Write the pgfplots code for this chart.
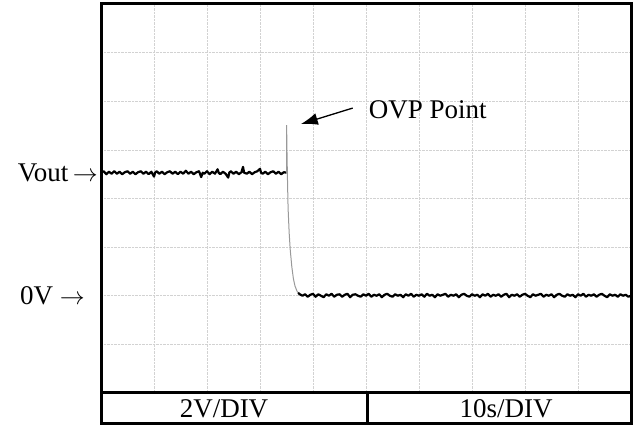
\documentclass[border=0pt]{standalone}
\usepackage{fontspec}
\setmainfont{Liberation Serif}
\usepackage{pgfplots}
\pgfplotsset{compat=1.18}
\usetikzlibrary{arrows.meta}

% trace before the OVP event (divisions)
\pgfplotstableread{
x y
0.00 4.53
0.05 4.56
0.10 4.50
0.15 4.55
0.20 4.51
0.25 4.56
0.30 4.51
0.35 4.55
0.40 4.50
0.45 4.54
0.50 4.56
0.55 4.51
0.60 4.55
0.65 4.50
0.70 4.54
0.75 4.56
0.80 4.51
0.85 4.55
0.90 4.50
0.95 4.55
1.00 4.45
1.02 4.53
1.05 4.56
1.10 4.51
1.15 4.55
1.20 4.50
1.25 4.54
1.30 4.56
1.35 4.51
1.40 4.55
1.45 4.50
1.50 4.55
1.55 4.51
1.60 4.57
1.65 4.51
1.70 4.55
1.75 4.50
1.80 4.54
1.85 4.56
1.89 4.44
1.92 4.53
1.95 4.51
2.00 4.56
2.05 4.50
2.10 4.55
2.15 4.51
2.20 4.60
2.22 4.53
2.25 4.50
2.30 4.55
2.35 4.51
2.40 4.43
2.42 4.53
2.45 4.56
2.50 4.51
2.55 4.55
2.60 4.50
2.65 4.54
2.68 4.65
2.70 4.53
2.75 4.51
2.80 4.55
2.85 4.50
2.90 4.54
2.95 4.56
3.00 4.61
3.02 4.53
3.05 4.51
3.10 4.55
3.15 4.50
3.20 4.54
3.25 4.56
3.30 4.51
3.35 4.55
3.40 4.50
3.45 4.54
3.50 4.53
}\pretable

% spike and fall
\pgfplotstableread{
x y
3.500 4.53
3.500 5.51
3.505 5.30
3.510 4.90
3.520 4.30
3.530 3.80
3.550 3.30
3.570 2.95
3.600 2.60
3.630 2.35
3.660 2.20
3.700 2.09
3.740 2.04
3.780 2.01
}\falltable

% trace after the event
\pgfplotstableread{
x y
3.72 2.06
3.75 2.03
3.80 2.00
3.85 2.03
3.90 1.98
3.95 2.02
4.00 2.04
4.05 1.98
4.10 2.03
4.15 2.00
4.20 1.97
4.25 2.03
4.30 2.00
4.35 2.04
4.40 1.98
4.45 2.02
4.50 2.03
4.55 1.98
4.60 2.02
4.65 2.04
4.70 1.97
4.75 2.02
4.80 2.03
4.85 2.00
4.90 1.98
4.95 2.03
5.00 2.00
5.05 2.04
5.10 1.98
5.15 2.02
5.20 2.00
5.25 2.03
5.30 1.97
5.35 2.02
5.40 2.04
5.45 2.00
5.50 1.98
5.55 2.03
5.60 2.00
5.65 2.02
5.70 1.97
5.75 2.03
5.80 2.00
5.85 2.04
5.90 1.98
5.95 2.02
6.00 2.00
6.05 2.03
6.10 1.98
6.15 2.04
6.20 2.00
6.25 2.02
6.30 1.97
6.35 2.03
6.40 2.00
6.45 2.02
6.50 2.04
6.55 1.98
6.60 2.02
6.65 2.00
6.70 2.03
6.75 1.97
6.80 2.02
6.85 2.04
6.90 2.00
6.95 1.98
7.00 2.03
7.05 2.00
7.10 2.02
7.15 1.97
7.20 2.03
7.25 2.00
7.30 2.04
7.35 1.98
7.40 2.02
7.45 2.00
7.50 2.03
7.55 1.98
7.60 2.02
7.65 2.04
7.70 1.97
7.75 2.02
7.80 2.00
7.85 2.03
7.90 1.98
7.95 2.02
8.00 2.04
8.05 2.00
8.10 1.97
8.15 2.03
8.20 2.00
8.25 2.02
8.30 2.04
8.35 1.98
8.40 2.02
8.45 2.00
8.50 2.03
8.55 1.97
8.60 2.02
8.65 2.04
8.70 2.00
8.75 1.98
8.80 2.03
8.85 2.00
8.90 2.02
8.95 1.97
9.00 2.03
9.05 2.00
9.10 2.04
9.15 1.98
9.20 2.02
9.25 2.00
9.30 2.03
9.35 1.98
9.40 2.02
9.45 2.04
9.50 2.00
9.55 1.97
9.60 2.03
9.65 2.00
9.70 2.02
9.75 1.98
9.80 2.03
9.85 2.00
9.90 2.02
9.95 1.98
10.00 2.00
}\posttable

\begin{document}
\begin{tikzpicture}[font=\fontsize{27}{31}\selectfont]
\begin{axis}[
    name=ax,
    scale only axis,
    width=530pt, height=389pt,
    xmin=0, xmax=10, ymin=0, ymax=8,
    xtick={0,...,10}, ytick={0,...,8},
    xticklabels={}, yticklabels={},
    major tick length=0pt,
    grid=major,
    grid style={gray!35, densely dotted, line width=0.7pt},
    axis line style={line width=3pt},
  ]
  \addplot[black, line width=2.2pt, line join=round] table {\pretable};
  \addplot[gray!80, line width=1pt] table {\falltable};
  \addplot[black, line width=2.2pt, line join=round] table {\posttable};
  \coordinate (vout) at (axis cs:0,4.53);
  \coordinate (zero) at (axis cs:0,2.0);
  \coordinate (tip) at (axis cs:3.77,5.53);
  \coordinate (tail) at (axis cs:4.75,5.86);
\end{axis}

% annotations
\node[anchor=east, inner sep=0pt] at ([xshift=-3pt]vout) {Vout\,$\rightarrow$};
\node[anchor=east, inner sep=0pt] at ([xshift=-16pt]zero) {0V $\rightarrow$};
\draw[line width=1.3pt, -{Latex[length=17pt, width=12pt]}] (tail) -- (tip);
\node[anchor=west, inner sep=0pt] at ([xshift=16pt, yshift=-2pt]tail) {OVP Point};

% scale table under the screen
\draw[line width=3pt, line join=miter]
  (ax.south west) -- ([yshift=-31pt]ax.south west)
  -- ([yshift=-31pt]ax.south east) -- (ax.south east);
\draw[line width=3pt] ([xshift=266pt]ax.south west) -- ++(0,-31pt);
\node at ([xshift=123pt, yshift=-16pt]ax.south west) {2V/DIV};
\node at ([xshift=405pt, yshift=-16pt]ax.south west) {10s/DIV};

\pgfresetboundingbox
\path[use as bounding box] ([xshift=-101pt, yshift=-32pt]ax.south west)
  rectangle ([xshift=8pt, yshift=4pt]ax.north east);
\end{tikzpicture}
\end{document}
